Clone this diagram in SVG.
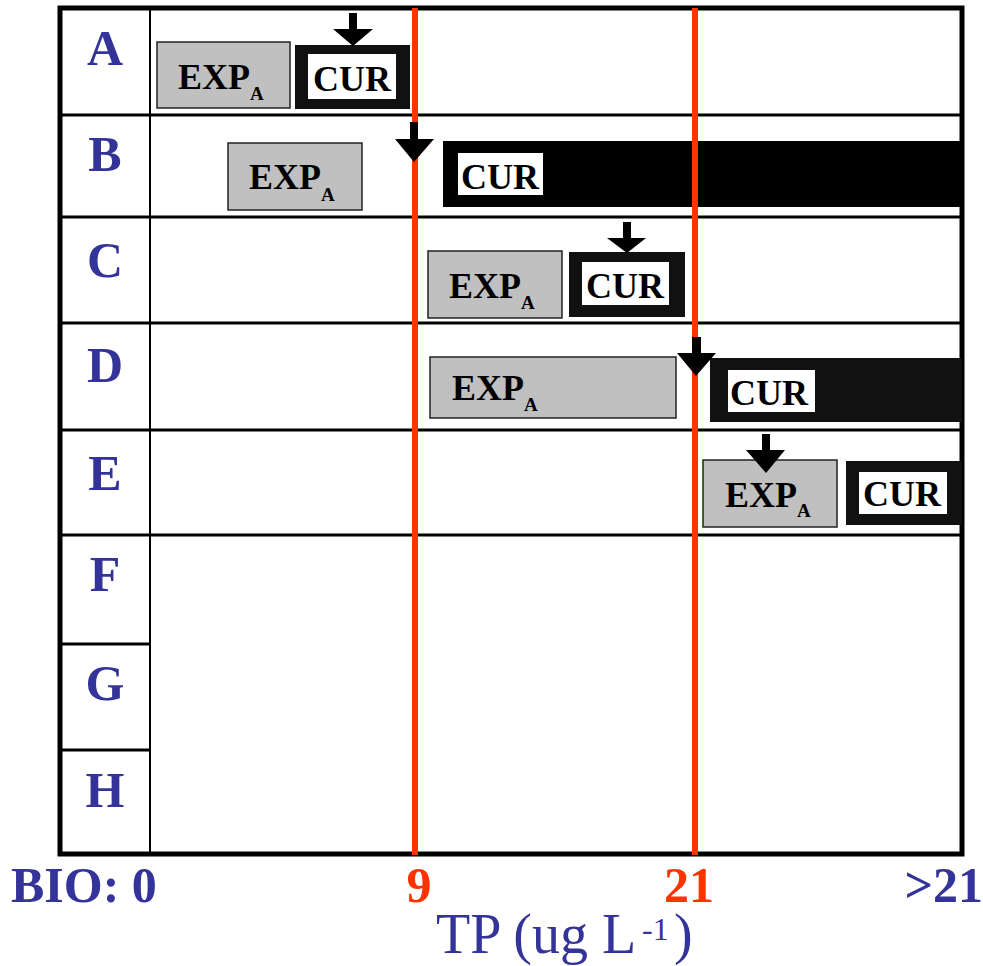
<svg xmlns="http://www.w3.org/2000/svg" width="983" height="966" viewBox="0 0 983 966">
<style>
.lbl{font-family:"Liberation Serif","Times New Roman",serif;font-weight:bold;font-size:50px;fill:#333399;text-anchor:middle}
.exp{fill:#C0C0C0;stroke:#222;stroke-width:1.5}
.etx{font-family:"Liberation Serif","Times New Roman",serif;font-weight:bold;font-size:36px;fill:#000}
.frm{fill:#111}
.wht{fill:#fff}
.ctx{font-family:"Liberation Serif","Times New Roman",serif;font-weight:bold;font-size:36px;fill:#000;text-anchor:middle}
.grid{stroke:#000;stroke-width:3;fill:none}
.red{stroke:#FF3300;stroke-width:6}
.arr{fill:#000}
.ax{font-family:"Liberation Serif","Times New Roman",serif;font-weight:bold;font-size:50px}
.tp{font-family:"Liberation Serif","Times New Roman",serif;fill:#333399}
</style>
<rect width="983" height="966" fill="#fff"/>
<g id="grid">
<line class="grid" x1="60" y1="115" x2="962" y2="115"/>
<line class="grid" x1="60" y1="217" x2="962" y2="217"/>
<line class="grid" x1="60" y1="323" x2="962" y2="323"/>
<line class="grid" x1="60" y1="430" x2="962" y2="430"/>
<line class="grid" x1="60" y1="535" x2="962" y2="535"/>
<line class="grid" x1="60" y1="644" x2="150" y2="644"/>
<line class="grid" x1="60" y1="750" x2="150" y2="750"/>
<line x1="150" y1="8" x2="150" y2="855" stroke="#000" stroke-width="2"/>
<rect x="60" y="8" width="902" height="846" fill="none" stroke="#000" stroke-width="5"/>
</g>
<g id="labels">
<text class="lbl" x="105" y="65">A</text>
<text class="lbl" x="105" y="171">B</text>
<text class="lbl" x="105" y="277">C</text>
<text class="lbl" x="105" y="382">D</text>
<text class="lbl" x="105" y="490">E</text>
<text class="lbl" x="105" y="591">F</text>
<text class="lbl" x="105" y="700">G</text>
<text class="lbl" x="105" y="807">H</text>
</g>
<g id="rowA">
<rect class="exp" x="157" y="42" width="133" height="66"/>
<text class="etx" x="178" y="89">EXP<tspan dy="11" font-size="19">A</tspan></text>
<rect class="frm" x="295" y="45" width="115" height="64"/>
<rect class="wht" x="308" y="54" width="88" height="45"/>
<text class="ctx" x="352" y="91">CUR</text>
</g>
<g id="rowB">
<rect class="exp" x="228" y="143" width="134" height="67"/>
<text class="etx" x="249" y="189">EXP<tspan dy="12" font-size="19">A</tspan></text>
<rect x="443" y="141" width="519" height="66" fill="#000"/>
<rect class="wht" x="458" y="153" width="85" height="42"/>
<text class="ctx" x="500" y="189">CUR</text>
</g>
<g id="rowC">
<rect class="exp" x="428" y="251" width="134" height="67"/>
<text class="etx" x="449" y="298">EXP<tspan dy="11" font-size="19">A</tspan></text>
<rect class="frm" x="569" y="252" width="116" height="65"/>
<rect class="wht" x="582" y="262" width="87" height="43"/>
<text class="ctx" x="625" y="298">CUR</text>
</g>
<g id="rowD">
<rect class="exp" x="430" y="357" width="246" height="61"/>
<text class="etx" x="452" y="400">EXP<tspan dy="11" font-size="19">A</tspan></text>
<rect class="frm" x="710" y="358" width="252" height="64"/>
<rect class="wht" x="728" y="370" width="87" height="42"/>
<text class="ctx" x="769" y="405">CUR</text>
</g>
<g id="rowE">
<rect class="exp" x="703" y="460" width="134" height="67"/>
<text class="etx" x="725" y="507">EXP<tspan dy="10" font-size="19">A</tspan></text>
<rect class="frm" x="846" y="461" width="116" height="64"/>
<rect class="wht" x="859" y="472" width="88" height="42"/>
<text class="ctx" x="902" y="506">CUR</text>
</g>
<g id="thresholds">
<line class="red" x1="415" y1="8" x2="415" y2="855"/>
<line class="red" x1="695" y1="8" x2="695" y2="855"/>
</g>
<g id="connectors">
<polygon class="arr" points="349,13 357,13 357,29 373,29 353,46 333,29 349,29"/>
<polygon class="arr" points="410,122 418,122 418,139 434,139 414,162 395,139 410,139"/>
<polygon class="arr" points="623,222 631,222 631,238 646,238 627,253 607,238 623,238"/>
<polygon class="arr" points="692,337 701,337 701,353 716,353 696,376 677,353 692,353"/>
<polygon class="arr" points="762,434 770,434 770,450 785,450 766,473 746,450 762,450"/>
</g>
<g id="axis">
<text class="ax" x="11" y="902" fill="#333399">BIO: 0</text>
<text class="ax" x="419" y="902" fill="#FF3300" text-anchor="middle">9</text>
<text class="ax" x="689" y="902" fill="#FF3300" text-anchor="middle">21</text>
<text class="ax" x="983" y="902" fill="#333399" text-anchor="end">&gt;21</text>
<text class="tp" x="436" y="953" font-size="56">TP (ug L<tspan x="642" y="940" font-size="32">-1</tspan><tspan x="674" y="953">)</tspan></text>
</g>
</svg>
